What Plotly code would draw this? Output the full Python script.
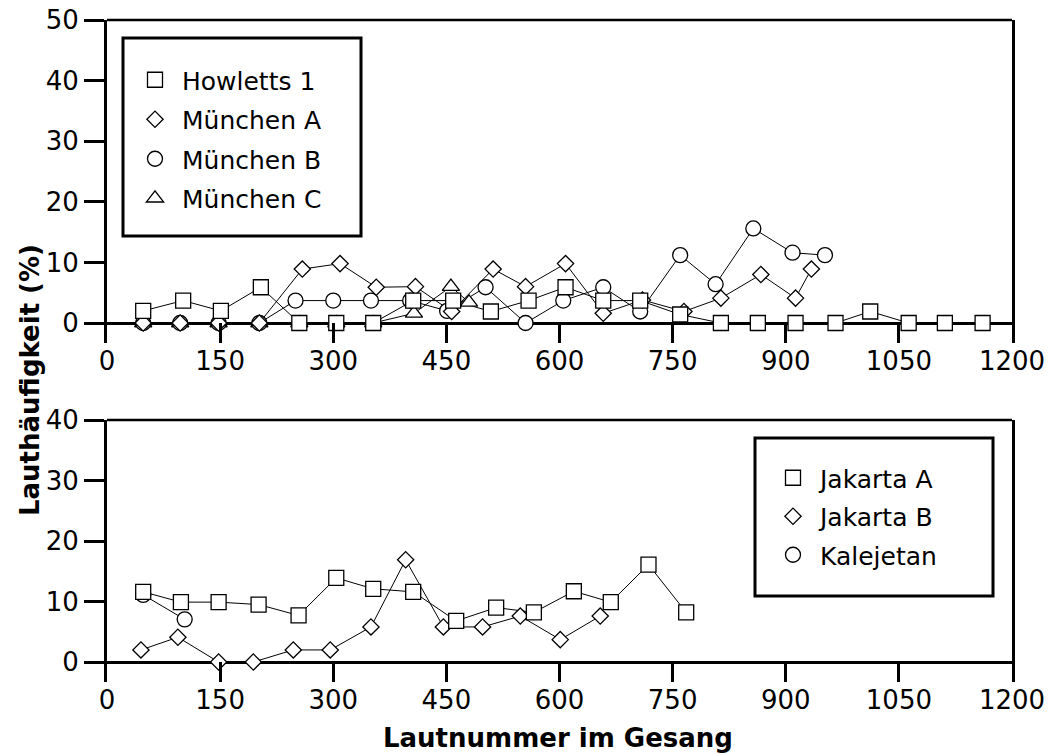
import plotly.graph_objects as go

# ---------------- data ----------------
# top panel
howletts_x = [48, 101, 151, 204, 255, 304, 353, 406, 459, 509, 559, 608, 658, 707,
              760, 814, 863, 913, 966, 1012, 1063, 1111, 1161]
howletts_y = [2.0, 3.7, 2.0, 5.9, 0, 0, 0, 3.7, 3.7, 1.9, 3.7, 5.9, 3.7, 3.7,
              1.4, 0, 0, 0, 0, 1.9, 0, 0, 0]
muenA_x = [48, 97, 148, 202, 259, 309, 357, 409, 457, 512, 555, 608, 658, 710,
           765, 814, 867, 913, 934]
muenA_y = [0, 0, 0, 0, 8.9, 9.8, 5.9, 6.0, 1.9, 8.9, 6.0, 9.8, 1.6, 3.8,
           1.9, 4.1, 8.0, 4.1, 8.9]
muenB_x = [48, 97, 148, 202, 250, 300, 350, 402, 451, 502, 555, 605, 658, 707,
           760, 807, 857, 909, 952]
muenB_y = [0, 0, 0, 0, 3.7, 3.7, 3.7, 3.7, 2.0, 5.9, 0, 3.7, 5.9, 1.9,
           11.2, 6.4, 15.6, 11.6, 11.2]
muenC_x = [48, 97, 148, 202, 255, 304, 353, 407, 456, 480]
muenC_y = [0, 0, 0, 0, 0, 0, 0, 1.6, 6.0, 3.4]

# bottom panel
jakA_x = [48, 98, 148, 201, 254, 304, 353, 406, 463, 516, 566, 619, 668, 718, 768]
jakA_y = [11.6, 9.9, 9.9, 9.5, 7.7, 13.9, 12.1, 11.6, 6.8, 9.0, 8.2, 11.7, 9.9, 16.1, 8.2]
jakB_x = [45, 94, 148, 194, 247, 296, 350, 396, 446, 498, 548, 601, 654]
jakB_y = [2.0, 4.1, 0, 0, 2.0, 2.0, 5.8, 16.9, 5.8, 5.8, 7.6, 3.7, 7.6]
kal_x = [48, 103]
kal_y = [11.1, 7.05]

x_ticks = [0, 150, 300, 450, 600, 750, 900, 1050, 1200]
y_ticks_top = [0, 10, 20, 30, 40, 50]
y_ticks_bottom = [0, 10, 20, 30, 40]

# ---------------- figure ----------------
W, H = 1050, 754
FONT = "DejaVu Sans"

def px_x(p):
    return p / W

def px_y(p):
    return 1 - p / H

symbols = {"square": 15, "diamond": 12.5, "circle": 15, "triangle-up": 15}

top_series = [  # drawing order: bottom-most first
    ("München C", muenC_x, muenC_y, "triangle-up", 4),
    ("München B", muenB_x, muenB_y, "circle", 3),
    ("München A", muenA_x, muenA_y, "diamond", 2),
    ("Howletts 1", howletts_x, howletts_y, "square", 1),
]
bottom_series = [
    ("Kalejetan", kal_x, kal_y, "circle", 3),
    ("Jakarta B", jakB_x, jakB_y, "diamond", 2),
    ("Jakarta A", jakA_x, jakA_y, "square", 1),
]

fig = go.Figure()

for series, xa, ya, leg in [(top_series, "x", "y", "legend"),
                            (bottom_series, "x2", "y2", "legend2")]:
    for name, xs, ys, sym, rank in series:
        fig.add_trace(go.Scatter(
            x=xs, y=ys, mode="lines", xaxis=xa, yaxis=ya,
            line=dict(color="black", width=1), showlegend=False,
            hoverinfo="skip"))
    for name, xs, ys, sym, rank in series:
        fig.add_trace(go.Scatter(
            x=xs, y=ys, mode="markers", name=name, xaxis=xa, yaxis=ya,
            legend=leg, legendrank=rank, legendgroup=name,
            marker=dict(symbol=sym, size=symbols[sym], color="white",
                        line=dict(color="black", width=1.3))))

xdom = [px_x(107), px_x(1012)]
xcommon = dict(range=[0, 1200], tickvals=x_ticks, ticks="inside", ticklen=20,
               tickwidth=3, tickcolor="black", showline=False, showgrid=False,
               zeroline=False, domain=xdom, automargin=False,
               tickfont=dict(family=FONT, size=26, color="black"))
ycommon = dict(ticks="outside", ticklen=20, tickwidth=3, tickcolor="black",
               showline=True, linewidth=3, linecolor="black", mirror=True,
               showgrid=False, zeroline=True, zerolinewidth=3,
               zerolinecolor="black", automargin=False,
               tickfont=dict(family=FONT, size=26, color="black"))

fig.update_layout(
    width=W, height=H, margin=dict(l=0, r=0, t=0, b=0),
    paper_bgcolor="white", plot_bgcolor="white",
    xaxis=dict(anchor="y", **xcommon),
    yaxis=dict(anchor="x", range=[-3.3, 50], tickvals=y_ticks_top,
               domain=[px_y(343), px_y(20)], **ycommon),
    xaxis2=dict(anchor="y2", **xcommon),
    yaxis2=dict(anchor="x2", range=[-3.3, 40], tickvals=y_ticks_bottom,
                domain=[px_y(682), px_y(420)], **ycommon),
    legend=dict(x=px_x(128), y=px_y(57), xanchor="left", yanchor="top",
                bgcolor="rgba(0,0,0,0)", borderwidth=0, itemwidth=44,
                traceorder="grouped", tracegroupgap=4,
                font=dict(family=FONT, size=25, color="black")),
    legend2=dict(x=px_x(766), y=px_y(455), xanchor="left", yanchor="top",
                 bgcolor="rgba(0,0,0,0)", borderwidth=0, itemwidth=44,
                 traceorder="grouped", tracegroupgap=3,
                 font=dict(family=FONT, size=25, color="black")),
    showlegend=True,
)

# frame pieces: top border lines and legend boxes
shapes = [
    dict(type="line", xref="x domain", yref="y domain", x0=0, x1=1, y0=1, y1=1,
         line=dict(color="black", width=2.5)),
    dict(type="line", xref="x2 domain", yref="y2 domain", x0=0, x1=1, y0=1, y1=1,
         line=dict(color="black", width=2.5)),
    dict(type="rect", xref="paper", yref="paper", x0=px_x(123), x1=px_x(361),
         y0=px_y(236), y1=px_y(38), line=dict(color="black", width=3)),
    dict(type="rect", xref="paper", yref="paper", x0=px_x(755), x1=px_x(993),
         y0=px_y(596), y1=px_y(438), line=dict(color="black", width=3)),
]
fig.update_layout(shapes=shapes)

fig.add_annotation(text="<b>Lauthäufigkeit (%)</b>", xref="paper", yref="paper",
                   x=px_x(30), y=px_y(380), textangle=-90, showarrow=False,
                   xanchor="center", yanchor="middle",
                   font=dict(family=FONT, size=26, color="black"))
fig.add_annotation(text="<b>Lautnummer im Gesang</b>", xref="paper", yref="paper",
                   x=px_x(558), y=px_y(738), showarrow=False,
                   xanchor="center", yanchor="middle",
                   font=dict(family=FONT, size=26, color="black"))

fig.write_html("out.html")
